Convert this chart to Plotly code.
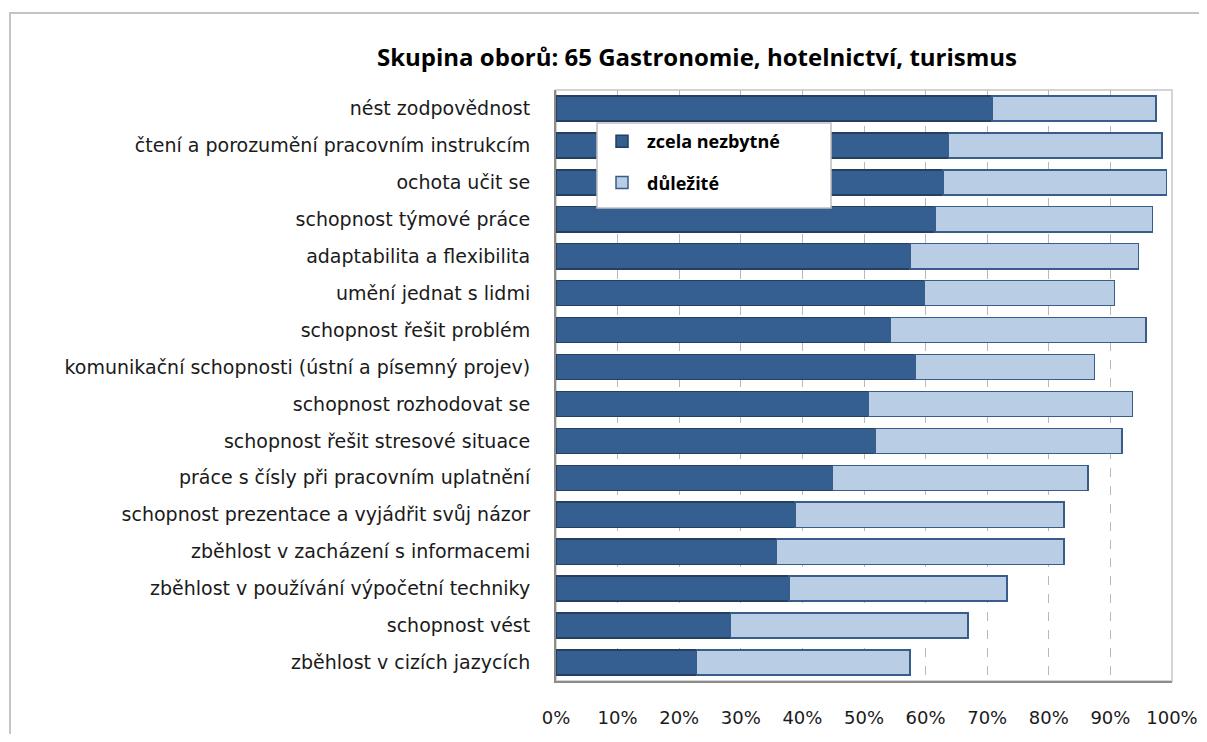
import plotly.graph_objects as go

categories = [
    "nést zodpovědnost",
    "čtení a porozumění pracovním instrukcím",
    "ochota učit se",
    "schopnost týmové práce",
    "adaptabilita a flexibilita",
    "umění jednat s lidmi",
    "schopnost řešit problém",
    "komunikační schopnosti (ústní a písemný projev)",
    "schopnost rozhodovat se",
    "schopnost řešit stresové situace",
    "práce s čísly při pracovním uplatnění",
    "schopnost prezentace a vyjádřit svůj názor",
    "zběhlost v zacházení s informacemi",
    "zběhlost v používání výpočetní techniky",
    "schopnost vést",
    "zběhlost v cizích jazycích",
]
zcela_nezbytne = [70.8, 63.7, 62.8, 61.5, 57.5, 59.8, 54.3, 58.3, 50.7, 51.8, 44.9, 38.8, 35.8, 37.8, 28.3, 22.8]
celkem = [97.4, 98.4, 99.1, 96.8, 94.6, 90.7, 95.8, 87.4, 93.6, 91.9, 86.4, 82.5, 82.5, 73.2, 66.9, 57.5]
dulezite = [round(t - z, 1) for t, z in zip(celkem, zcela_nezbytne)]
tick_vals = [0, 10, 20, 30, 40, 50, 60, 70, 80, 90, 100]
tick_text = ["0%", "10%", "20%", "30%", "40%", "50%", "60%", "70%", "80%", "90%", "100%"]
title_text = "Skupina oborů: 65 Gastronomie, hotelnictví, turismus"

fig = go.Figure()
fig.add_trace(go.Bar(
    y=categories, x=zcela_nezbytne, orientation="h", name="zcela nezbytné",
    marker=dict(color="#365F91", line=dict(color="#243F60", width=1.5)),
    legendgroup="a",
))
fig.add_trace(go.Bar(
    y=categories, x=dulezite, orientation="h", name="důležité",
    marker=dict(color="#B9CDE5", line=dict(color="#385D8A", width=1.5)),
    legendgroup="b",
))

OFF = 8  # page body margin
W, H = 1207 - 2 * OFF, 742 - 2 * OFF
L, R, T, B = 556 - OFF, 1172 - OFF, 90 - OFF, 681 - OFF
pw, ph = R - L, B - T

def px(x):
    return (x - OFF - L) / pw

def py(y):
    return (B - (y - OFF)) / ph

fig.update_layout(
    width=W, height=H,
    margin=dict(l=L, r=W - R, t=T, b=H - B, pad=0),
    barmode="stack",
    bargap=0.32,
    plot_bgcolor="white",
    paper_bgcolor="white",
    font=dict(family="DejaVu Sans", color="#1a1a1a"),
    title=dict(
        text="<b>" + title_text + "</b>",
        font=dict(family="Open Sans", size=24, color="#000000"),
        x=(697 - OFF) / W, xanchor="center", y=1 - (58 - OFF) / H, yanchor="middle",
        automargin=False,
    ),
    legend=dict(
        x=px(597), y=py(123), xanchor="left", yanchor="top",
        bgcolor="rgba(0,0,0,0)", borderwidth=0,
        font=dict(family="Open Sans", size=18, color="#000000", weight="bold"),
        traceorder="grouped", tracegroupgap=15,
        itemwidth=40,
    ),
    xaxis=dict(
        range=[0, 100], tickvals=tick_vals, ticktext=tick_text,
        showgrid=True, gridcolor="#b8b8b8", griddash="dash", gridwidth=1,
        showline=True, linecolor="#8c8c8c", linewidth=2,
        ticks="", ticklabelstandoff=19, ticklabeloverflow="allow",
        tickfont=dict(family="DejaVu Sans", size=18, color="#1a1a1a"),
        zeroline=False, fixedrange=True, automargin=False,
    ),
    yaxis=dict(
        autorange="reversed",
        showgrid=False, showline=True, linecolor="#8c8c8c", linewidth=2,
        ticks="", ticklabelstandoff=20,
        tickfont=dict(family="DejaVu Sans", size=19, color="#1a1a1a"),
        fixedrange=True, automargin=False,
    ),
    shapes=[
        dict(type="rect", xref="paper", yref="paper", x0=0, x1=1, y0=0, y1=1,
             line=dict(color="#d4d4d4", width=2), layer="below"),
        dict(type="rect", xref="paper", yref="paper",
             x0=px(10), x1=px(1230), y0=py(13), y1=py(780),
             line=dict(color="#c4c4c4", width=2), layer="below"),
        dict(type="rect", xref="paper", yref="paper",
             x0=px(597), x1=px(831), y0=py(208), y1=py(123),
             fillcolor="white", line=dict(color="#bfbfbf", width=1.5), layer="above"),
    ],
)

fig.write_html("out.html")
